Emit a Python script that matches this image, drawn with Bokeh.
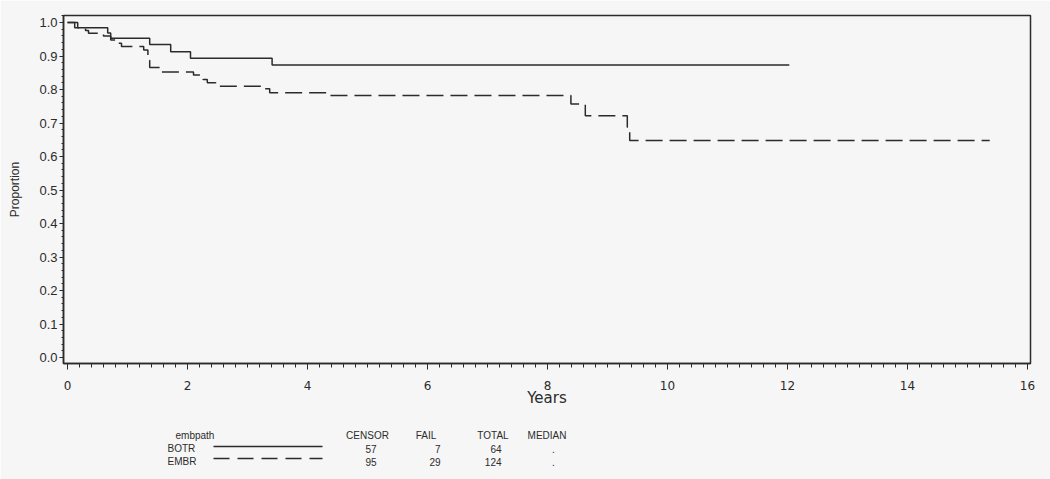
from bokeh.plotting import figure
from bokeh.models import Range1d, SingleIntervalTicker, NumeralTickFormatter
from bokeh.layouts import column
from bokeh.embed import file_html
from bokeh.resources import INLINE
from bokeh.core.properties import value

# ---- data ----
groups = ["BOTR", "EMBR"]
botr_time = [0, 0.17, 0.67, 0.72, 1.37, 1.72, 2.05, 3.41, 12.03]
botr_surv = [1.0, 0.984, 0.969, 0.953, 0.934, 0.913, 0.893, 0.873, 0.873]
embr_time = [0, 0.12, 0.30, 0.35, 0.60, 0.72, 0.84, 0.90, 1.27, 1.34, 1.37, 1.54,
             2.10, 2.26, 2.33, 2.47, 3.27, 3.37, 4.37, 8.39, 8.63, 9.33, 9.37, 15.37]
embr_surv = [1.0, 0.984, 0.976, 0.968, 0.960, 0.948, 0.938, 0.928, 0.918, 0.887, 0.866, 0.852,
             0.843, 0.830, 0.820, 0.810, 0.802, 0.790, 0.782, 0.757, 0.722, 0.687, 0.648, 0.648]
headers = ["CENSOR", "FAIL", "TOTAL", "MEDIAN"]
censor = [57, 95]
fail = [7, 29]
total = [64, 124]
median = [".", "."]

BG = "#f6f6f6"
INK = "#2b2b2b"
DASH = "17 7"
W, H = 1050, 479
FL, FR, FT, FB = 63, 1030, 15, 363  # frame edges in pixels

# ---- main KM plot (covers the whole page) ----
p = figure(width=W, height=H, output_backend="svg", toolbar_location=None,
           x_range=Range1d(-0.0667, 16.05), y_range=Range1d(-0.0179, 1.0209),
           min_border_left=FL, min_border_right=W - FR, min_border_top=FT, min_border_bottom=H - FB)
p.background_fill_color = BG
p.border_fill_color = BG
p.outline_line_color = INK
p.outline_line_width = 1.5
p.grid.visible = False

p.step(botr_time, botr_surv, mode="after", line_color=INK, line_width=1.5)
p.step(embr_time, embr_surv, mode="after", line_color=INK, line_width=1.5, line_dash=DASH)

xa = p.xaxis[0]
xa.ticker = SingleIntervalTicker(interval=2, num_minor_ticks=10)
xa.axis_label = "Years"
xa.axis_label_text_font = "DejaVu Sans"
xa.axis_label_text_font_size = "15px"
xa.axis_label_text_font_style = "normal"
xa.axis_label_text_color = INK
xa.axis_label_standoff = -4
xa.major_label_text_font = "DejaVu Sans"
xa.major_label_text_font_size = "12px"
xa.major_label_text_color = INK
xa.major_label_standoff = 11
xa.major_tick_out = 6
xa.major_tick_in = 0
xa.minor_tick_out = 4
xa.minor_tick_in = 0
xa.axis_line_color = INK
xa.axis_line_width = 1.5
xa.major_tick_line_color = INK
xa.minor_tick_line_color = INK

ya = p.yaxis[0]
ya.ticker = SingleIntervalTicker(interval=0.1, num_minor_ticks=5)
ya.formatter = NumeralTickFormatter(format="0.0")
ya.axis_label = "Proportion"
ya.axis_label_text_font = "Liberation Sans"
ya.axis_label_text_font_size = "12px"
ya.axis_label_text_font_style = "normal"
ya.axis_label_text_color = INK
ya.axis_label_standoff = 14
ya.major_label_text_font = "Liberation Sans"
ya.major_label_text_font_size = "13px"
ya.major_label_text_color = INK
ya.major_label_standoff = 2
ya.major_tick_out = 4
ya.major_tick_in = 0
ya.minor_tick_out = 2
ya.minor_tick_in = 0
ya.axis_line_color = INK
ya.axis_line_width = 1.5
ya.major_tick_line_color = INK
ya.minor_tick_line_color = INK

# ---- legend / summary table: transparent pixel-space overlay at the bottom ----
TOP = 418
QH = H - TOP
q = figure(width=W, height=QH, output_backend="svg", toolbar_location=None,
           x_range=Range1d(FL, FR), y_range=Range1d(QH, 0),
           min_border=0, min_border_left=FL, min_border_right=W - FR,
           min_border_top=0, min_border_bottom=0, margin=(-QH, 0, 0, 0))
q.axis.visible = False
q.grid.visible = False
q.outline_line_color = None
q.background_fill_color = None
q.border_fill_color = None

FS = "10px"
FONT = value("Liberation Sans")
hdr_x = [367, 425.5, 492.5, 546.5]
hy = 435 - TOP
row_y = [448 - TOP, 461 - TOP]
q.text(x=[175], y=[hy], text=["embpath"], text_font=FONT, text_font_size=FS,
       text_color=INK, text_baseline="middle", text_align="left")
q.text(x=hdr_x, y=[hy] * 4, text=headers, text_font=FONT, text_font_size=FS,
       text_color=INK, text_baseline="middle", text_align="center")
q.text(x=[167, 167], y=row_y, text=groups, text_font=FONT, text_font_size=FS,
       text_color=INK, text_baseline="middle", text_align="left")
q.text(x=[376, 376], y=row_y, text=[str(v) for v in censor], text_font=FONT, text_font_size=FS,
       text_color=INK, text_baseline="middle", text_align="right")
q.text(x=[440, 440], y=row_y, text=[str(v) for v in fail], text_font=FONT, text_font_size=FS,
       text_color=INK, text_baseline="middle", text_align="right")
q.text(x=[501, 501], y=row_y, text=[str(v) for v in total], text_font=FONT, text_font_size=FS,
       text_color=INK, text_baseline="middle", text_align="right")
q.text(x=[553, 553], y=row_y, text=median, text_font=FONT, text_font_size=FS,
       text_color=INK, text_baseline="middle", text_align="center")
q.line([213, 322], [446 - TOP, 446 - TOP], line_color=INK, line_width=1.3)
q.line([213, 322], [458 - TOP, 458 - TOP], line_color=INK, line_width=1.3, line_dash="16 8")

layout = column(p, q, spacing=0)
open("out.html", "w").write(file_html(layout, INLINE))
